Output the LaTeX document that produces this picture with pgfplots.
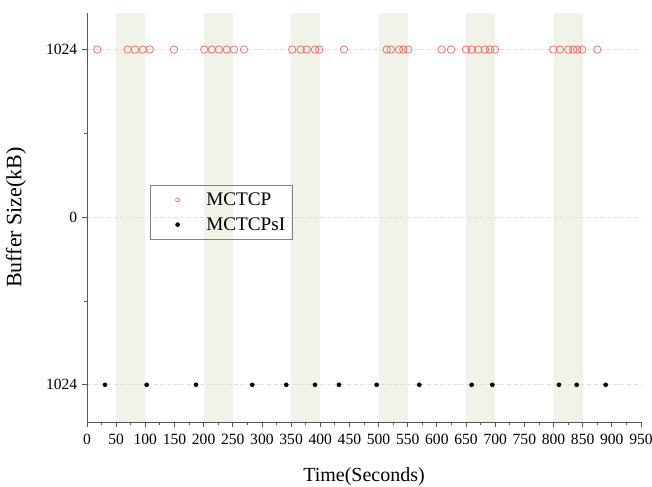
\documentclass[border=0pt]{standalone}
\usepackage{pgfplots}
\pgfplotsset{compat=1.18}
\usepackage{fontspec}
\setmainfont{Liberation Serif}
\definecolor{mred}{RGB}{242,104,104}
\definecolor{band}{rgb}{0.875,0.89,0.795}
\definecolor{axgray}{RGB}{85,85,85}
\begin{document}
\begin{tikzpicture}
\path[use as bounding box] (-65.25pt,-48pt) rectangle (423.75pt,316.5pt);
\begin{axis}[
  scale only axis, width=415.5pt, height=306.75pt,
  at={(0pt,0pt)}, anchor=south west,
  xmin=0, xmax=950, ymin=-1.222, ymax=1.218,
  axis lines*=left,
  axis line style={axgray, line width=0.75pt},
  xtick={0,50,...,950}, minor x tick num=1,
  ytick={-1,0,1}, yticklabels={1024,0,1024}, minor y tick num=1,
  tick align=outside, major tick length=3.75pt, minor tick length=2.2pt,
  tick style={axgray, line width=0.6pt},
  ymajorgrids, grid style={densely dashed, black!12, line width=0.5pt},
  xlabel={Time(Seconds)}, ylabel={Buffer Size(kB)},
  xlabel style={font=\fontsize{15}{18}\selectfont,
    at={(axis description cs:0.5,-0.1330)}, anchor=center},
  ylabel style={font=\fontsize{16.5}{19}\selectfont,
    at={(axis description cs:-0.1280,0.5)}, anchor=center},
  tick label style={font=\fontsize{11.7}{14}\selectfont},
  xticklabel style={yshift=-2pt},
  /pgf/number format/assume math mode=true,
  legend style={at={(0.1137,0.5795)}, anchor=north west, draw=gray,
    fill=none, font=\fontsize{14.4}{17}\selectfont,
    inner xsep=3pt, inner ysep=3.5pt, row sep=3.5pt},
  legend cell align=left,
  legend image code/.code={
    \path[draw=none, fill=none] (0pt,0pt) -- (37pt,0pt);
    \draw[#1, mark size=1.5pt] plot coordinates {(17.5pt,0pt)};
  },
]
% MCTCP buffer events
\addplot[only marks, mark=o, mark size=2.8pt, mred, mark options={line width=0.55pt}]
coordinates {
 (17.7,1) (69.8,1) (82.3,1) (95.5,1) (107.5,1) (149.2,1)
 (201.1,1) (213.8,1) (226.3,1) (239.5,1) (252.1,1) (269.3,1)
 (352,1) (366.4,1) (376.7,1) (390.9,1) (398.3,1) (440.7,1)
 (513.9,1) (520.7,1) (535,1) (542.4,1) (550.9,1)
 (608.2,1) (624.2,1) (649.9,1) (659.6,1) (671,1) (682.4,1) (691,1) (699.6,1)
 (799.6,1) (811,1) (825.3,1) (833.9,1) (840.7,1) (849.3,1) (875,1)
};
\addlegendentry{MCTCP}
% MCTCPsI buffer events
\addplot[only marks, mark=*, mark size=1.5pt, black]
coordinates {
 (30.9,-1) (102.3,-1) (186.9,-1) (283.4,-1) (341.7,-1) (391,-1) (432.1,-1)
 (496.7,-1) (569.8,-1) (659.6,-1) (695,-1) (809.3,-1) (839.7,-1) (889.4,-1)
};
\addlegendentry{MCTCPsI}
% shaded intervals, laid over the marks
\addplot[draw=none, fill=band, fill opacity=0.45, forget plot] coordinates {(50,-1.222) (100,-1.222) (100,1.218) (50,1.218)};
\addplot[draw=none, fill=band, fill opacity=0.45, forget plot] coordinates {(200,-1.222) (250,-1.222) (250,1.218) (200,1.218)};
\addplot[draw=none, fill=band, fill opacity=0.45, forget plot] coordinates {(350,-1.222) (400,-1.222) (400,1.218) (350,1.218)};
\addplot[draw=none, fill=band, fill opacity=0.45, forget plot] coordinates {(500,-1.222) (550,-1.222) (550,1.218) (500,1.218)};
\addplot[draw=none, fill=band, fill opacity=0.45, forget plot] coordinates {(650,-1.222) (700,-1.222) (700,1.218) (650,1.218)};
\addplot[draw=none, fill=band, fill opacity=0.45, forget plot] coordinates {(800,-1.222) (850,-1.222) (850,1.218) (800,1.218)};
\end{axis}
\end{tikzpicture}
\end{document}
